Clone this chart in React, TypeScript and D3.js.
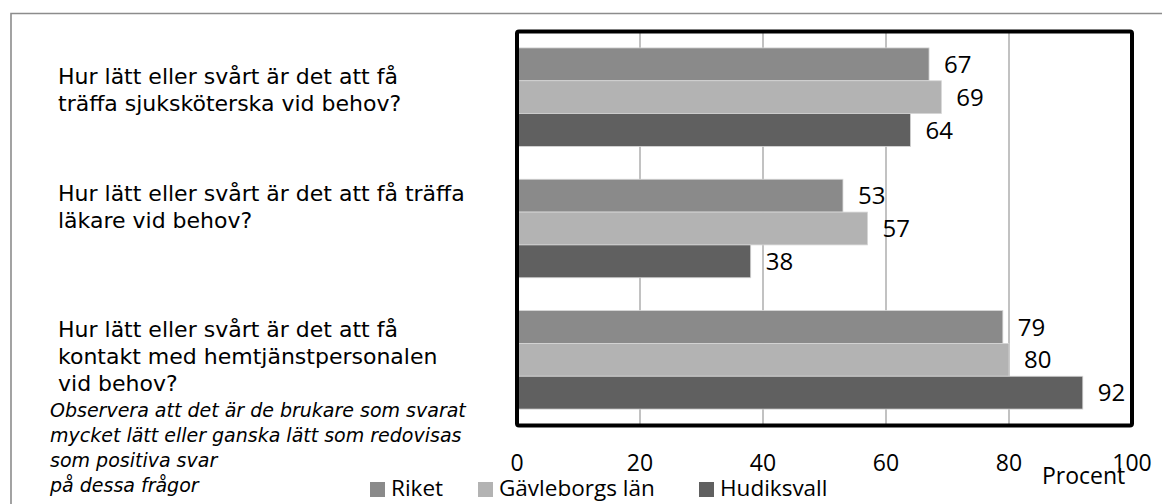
import React from "react";
import * as d3 from "d3";

const categories = [
  ["Hur lätt eller svårt är det att få", "träffa sjuksköterska vid behov?"],
  ["Hur lätt eller svårt är det att få träffa", "läkare vid behov?"],
  ["Hur lätt eller svårt är det att få", "kontakt med hemtjänstpersonalen", "vid behov?"],
];
const seriesNames = ["Riket", "Gävleborgs län", "Hudiksvall"];
const riket = [67, 53, 79];
const gavleborg = [69, 57, 80];
const hudiksvall = [64, 38, 92];
const seriesValues = [riket, gavleborg, hudiksvall];
const seriesColors = ["#8a8a8a", "#b3b3b3", "#606060"];
const xTicks = [0, 20, 40, 60, 80, 100];
const noteLines = [
  "Observera att det är de brukare som svarat",
  "mycket lätt eller ganska lätt som redovisas",
  "som positiva svar",
  "på dessa frågor",
];
const axisTitle = "Procent";

const W = 1162;
const H = 504;
const plot = { left: 517, right: 1132, top: 31.5, bottom: 425.5 };

export default function App() {
  const x = d3.scaleLinear().domain([0, 100]).range([plot.left, plot.right]);
  const y = d3
    .scaleBand<number>()
    .domain(d3.range(categories.length))
    .range([plot.top, plot.bottom])
    .paddingInner(0.25)
    .paddingOuter(0.125);
  const sub = d3
    .scaleBand<number>()
    .domain(d3.range(seriesNames.length))
    .range([0, y.bandwidth()]);

  const labelFont = "'DejaVu Sans', sans-serif";
  const numFont = "'Open Sans', sans-serif";
  const qLineH = 27;
  const legendX = [370, 478, 699];

  return (
    <svg
      width={W}
      height={H}
      style={{ position: "absolute", left: 0, top: 0, background: "#fff" }}
    >
      <rect x={0} y={0} width={W} height={H} fill="#fff" />
      {/* outer border */}
      <path d={`M11,${H + 5} L11,13.5 L${W + 5},13.5`} fill="none" stroke="#8c8c8c" strokeWidth={1.6} />

      {/* gridlines */}
      {xTicks.slice(1, -1).map((t) => (
        <line key={t} x1={x(t)} x2={x(t)} y1={plot.top} y2={plot.bottom} stroke="#858585" strokeWidth={1} />
      ))}

      {/* bars */}
      {categories.map((_, ci) =>
        seriesValues.map((vals, si) => {
          const by = (y(ci) as number) + (sub(si) as number);
          return (
            <g key={`${ci}-${si}`}>
              <rect
                x={x(0)}
                y={by}
                width={x(vals[ci]) - x(0)}
                height={sub.bandwidth()}
                fill={seriesColors[si]}
                stroke="#d6d6d6"
                strokeWidth={0.8}
              />
              <text
                x={x(vals[ci]) + 15}
                y={by + sub.bandwidth() / 2}
                dy="0.36em"
                fontFamily={numFont}
                fontSize={24}
                fill="#000"
              >
                {vals[ci]}
              </text>
            </g>
          );
        })
      )}

      {/* plot frame */}
      <rect
        x={plot.left}
        y={plot.top}
        width={plot.right - plot.left}
        height={plot.bottom - plot.top}
        fill="none"
        stroke="#000"
        strokeWidth={4}
        rx={2}
      />

      {/* x tick labels */}
      {xTicks.map((t) => (
        <text key={t} x={x(t)} y={470.5} textAnchor="middle" fontFamily={numFont} fontSize={23} fill="#000">
          {t}
        </text>
      ))}
      <text x={1042} y={484} fontFamily={numFont} fontSize={23} fill="#000">
        {axisTitle}
      </text>

      {/* category labels */}
      {categories.map((lines, ci) => {
        const baseY = [84, 201, 337][ci];
        return (
          <text key={ci} fontFamily={labelFont} fontSize={22} fill="#000">
            {lines.map((l, li) => (
              <tspan key={li} x={58} y={baseY + li * qLineH}>
                {l}
              </tspan>
            ))}
          </text>
        );
      })}

      {/* note */}
      <text fontFamily={labelFont} fontStyle="italic" fontSize={19} fill="#000">
        {noteLines.map((l, li) => (
          <tspan key={li} x={50} y={417 + li * 25}>
            {l}
          </tspan>
        ))}
      </text>

      {/* legend */}
      {seriesNames.map((n, si) => (
        <g key={n}>
          <rect x={legendX[si]} y={482} width={15} height={15} fill={seriesColors[si]} />
          <text x={legendX[si] + 21} y={495.5} fontFamily={numFont} fontSize={22.5} fill="#000">
            {n}
          </text>
        </g>
      ))}
    </svg>
  );
}
